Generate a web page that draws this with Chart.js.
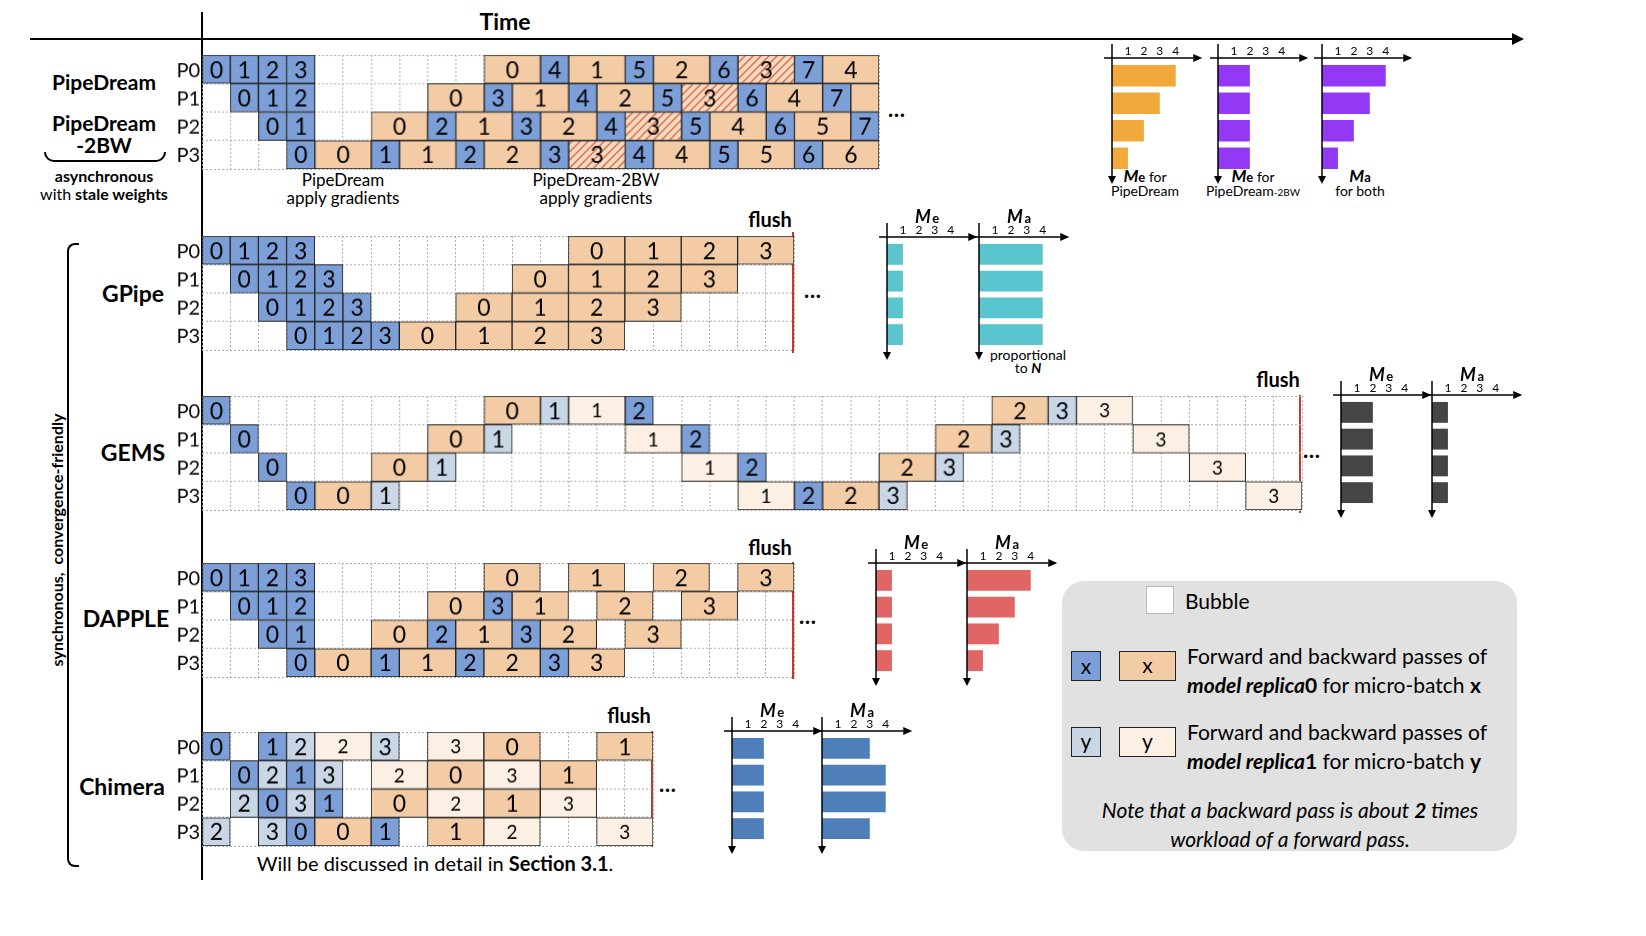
<!DOCTYPE html>
<html><head><meta charset="utf-8">
<script src="https://cdn.jsdelivr.net/npm/chart.js@4"></script>
<style>
body{margin:0;background:#fff;width:1646px;height:936px;position:relative;overflow:hidden;font-family:Lato,"Open Sans",sans-serif;color:#000}
canvas{position:absolute}
.t{position:absolute;white-space:nowrap;line-height:1}
.c{transform:translateX(-50%);text-align:center}
.b{font-weight:bold}
.ln{position:absolute;background:#000}
.red{position:absolute;background:#c0392b;width:2px}
.m{font-weight:bold;font-style:italic}
</style></head><body>
<!-- axes -->
<div class="ln" style="left:30px;top:38px;width:1490px;height:2px"></div>
<div style="position:absolute;left:1512px;top:33px;border-left:12px solid #000;border-top:6px solid transparent;border-bottom:6px solid transparent"></div>
<div class="ln" style="left:201px;top:12px;width:2px;height:868px"></div>
<div class="t c b" style="left:505px;top:10px;font-size:23px">Time</div>

<div class="t c b" style="left:104px;top:71px;font-size:21px">PipeDream</div>
<div class="t c b" style="left:104px;top:112px;font-size:21px;line-height:1.05">PipeDream<br>-2BW</div>
<div style="position:absolute;left:44px;top:152px;width:118px;height:8px;border:2px solid #000;border-top:none;border-radius:0 0 10px 10px"></div>
<div class="t c b" style="left:104px;top:167px;font-size:16px;line-height:1.1">asynchronous<br><span style="font-weight:normal">with</span> stale weights</div>
<div class="t c" style="left:343px;top:171px;font-size:17px;line-height:1.05">PipeDream<br>apply gradients</div>
<div class="t c" style="left:596px;top:171px;font-size:17px;line-height:1.05">PipeDream-2BW<br>apply gradients</div>
<div class="t b" style="left:888px;top:98px;font-size:22px">…</div>

<div style="position:absolute;left:67px;top:243px;width:10px;height:620px;border:2px solid #000;border-right:none;border-radius:8px 0 0 8px"></div>
<div class="t b" style="left:57px;top:540px;font-size:16px;transform:translate(-50%,-50%) rotate(-90deg)">synchronous,&nbsp; convergence-friendly</div>

<div class="t c b" style="left:133px;top:282px;font-size:23px">GPipe</div>
<div class="t c b" style="left:133px;top:441px;font-size:23px">GEMS</div>
<div class="t c b" style="left:126px;top:607px;font-size:23px">DAPPLE</div>
<div class="t c b" style="left:122px;top:775px;font-size:23px">Chimera</div>

<div class="t c b" style="left:770px;top:209px;font-size:20px">flush</div>
<div class="red" style="left:792px;top:232px;height:121px"></div>
<div class="t c b" style="left:1278px;top:369px;font-size:20px">flush</div>
<div class="red" style="left:1299px;top:395px;height:118px"></div>
<div class="t c b" style="left:770px;top:537px;font-size:20px">flush</div>
<div class="red" style="left:792px;top:562px;height:117px"></div>
<div class="t c b" style="left:629px;top:705px;font-size:20px">flush</div>
<div class="red" style="left:651px;top:731px;height:116px"></div>
<div class="t b" style="left:804px;top:279px;font-size:22px">…</div>
<div class="t b" style="left:1303px;top:439px;font-size:22px">…</div>
<div class="t b" style="left:799px;top:605px;font-size:22px">…</div>
<div class="t b" style="left:659px;top:773px;font-size:22px">…</div>

<div class="t c" style="left:435px;top:853px;font-size:20px">Will be discussed in detail in <b>Section 3.1</b>.</div>

<!-- memory labels -->
<div class="t c" style="left:1145px;top:167px;font-size:14px;line-height:1"><span class="m" style="font-size:17px">M</span><b style="font-size:13px">e</b> for<br>PipeDream</div>
<div class="t c" style="left:1253px;top:167px;font-size:14px;line-height:1"><span class="m" style="font-size:17px">M</span><b style="font-size:13px">e</b> for<br>PipeDream<span style="font-size:10px">-2BW</span></div>
<div class="t c" style="left:1360px;top:167px;font-size:14px;line-height:1"><span class="m" style="font-size:17px">M</span><b style="font-size:13px">a</b><br>for both</div>
<div class="t c" style="left:1028px;top:348px;font-size:14px;line-height:0.95">proportional<br>to <i><b>N</b></i></div>

<!-- legend -->
<div style="position:absolute;left:1062px;top:581px;width:455px;height:270px;background:#e1e1e1;border-radius:22px"></div>
<div style="position:absolute;left:1146px;top:586px;width:26px;height:26px;background:#fff;border:1px solid #bbb"></div>
<div class="t" style="left:1185px;top:590px;font-size:21px">Bubble</div>
<div style="position:absolute;left:1071px;top:651px;width:28px;height:28px;background:#7d9fd8;border:1px solid #222;font-size:21px;text-align:center;line-height:28px">x</div>
<div style="position:absolute;left:1119px;top:651px;width:55px;height:28px;background:#f3cca6;border:1px solid #222;font-size:21px;text-align:center;line-height:26px">x</div>
<div class="t" style="left:1187px;top:641px;font-size:21px;line-height:1.4">Forward and backward passes of<br><b><i>model replica</i>0</b> for micro-batch <b>x</b></div>
<div style="position:absolute;left:1071px;top:727px;width:28px;height:28px;background:#c9d6e6;border:1px solid #222;font-size:21px;text-align:center;line-height:26px">y</div>
<div style="position:absolute;left:1119px;top:727px;width:55px;height:28px;background:#fcefe3;border:1px solid #222;font-size:21px;text-align:center;line-height:26px">y</div>
<div class="t" style="left:1187px;top:717px;font-size:21px;line-height:1.4">Forward and backward passes of<br><b><i>model replica</i>1</b> for micro-batch <b>y</b></div>
<div class="t c" style="left:1290px;top:795px;font-size:21px;line-height:1.4;font-style:italic">Note that a backward pass is about <b>2</b> times<br>workload of a forward pass.</div>

<script>
// cells: [row, start, end, type, label]; f0/b0 replica0, f1/b1 replica1, h stale backward
const pipeDreamCells = [
  [0,0,1,'f0','0'],[0,1,2,'f0','1'],[0,2,3,'f0','2'],[0,3,4,'f0','3'],
  [0,10,12,'b0','0'],[0,12,13,'f0','4'],[0,13,15,'b0','1'],[0,15,16,'f0','5'],[0,16,18,'b0','2'],[0,18,19,'f0','6'],[0,19,21,'h','3'],[0,21,22,'f0','7'],[0,22,24,'b0','4'],
  [1,1,2,'f0','0'],[1,2,3,'f0','1'],[1,3,4,'f0','2'],
  [1,8,10,'b0','0'],[1,10,11,'f0','3'],[1,11,13,'b0','1'],[1,13,14,'f0','4'],[1,14,16,'b0','2'],[1,16,17,'f0','5'],[1,17,19,'h','3'],[1,19,20,'f0','6'],[1,20,22,'b0','4'],[1,22,23,'f0','7'],[1,23,24,'b0',''],
  [2,2,3,'f0','0'],[2,3,4,'f0','1'],
  [2,6,8,'b0','0'],[2,8,9,'f0','2'],[2,9,11,'b0','1'],[2,11,12,'f0','3'],[2,12,14,'b0','2'],[2,14,15,'f0','4'],[2,15,17,'h','3'],[2,17,18,'f0','5'],[2,18,20,'b0','4'],[2,20,21,'f0','6'],[2,21,23,'b0','5'],[2,23,24,'f0','7'],
  [3,3,4,'f0','0'],[3,4,6,'b0','0'],[3,6,7,'f0','1'],[3,7,9,'b0','1'],[3,9,10,'f0','2'],[3,10,12,'b0','2'],[3,12,13,'f0','3'],[3,13,15,'h','3'],[3,15,16,'f0','4'],[3,16,18,'b0','4'],[3,18,19,'f0','5'],[3,19,21,'b0','5'],[3,21,22,'f0','6'],[3,22,24,'b0','6']
];
const gpipeCells = [
  [0,0,1,'f0','0'],[0,1,2,'f0','1'],[0,2,3,'f0','2'],[0,3,4,'f0','3'],[0,13,15,'b0','0'],[0,15,17,'b0','1'],[0,17,19,'b0','2'],[0,19,21,'b0','3'],
  [1,1,2,'f0','0'],[1,2,3,'f0','1'],[1,3,4,'f0','2'],[1,4,5,'f0','3'],[1,11,13,'b0','0'],[1,13,15,'b0','1'],[1,15,17,'b0','2'],[1,17,19,'b0','3'],
  [2,2,3,'f0','0'],[2,3,4,'f0','1'],[2,4,5,'f0','2'],[2,5,6,'f0','3'],[2,9,11,'b0','0'],[2,11,13,'b0','1'],[2,13,15,'b0','2'],[2,15,17,'b0','3'],
  [3,3,4,'f0','0'],[3,4,5,'f0','1'],[3,5,6,'f0','2'],[3,6,7,'f0','3'],[3,7,9,'b0','0'],[3,9,11,'b0','1'],[3,11,13,'b0','2'],[3,13,15,'b0','3']
];
const gemsCells = [
  [0,0,1,'f0','0'],[0,10,12,'b0','0'],[0,12,13,'f1','1'],[0,13,15,'b1','1'],[0,15,16,'f0','2'],[0,28,30,'b0','2'],[0,30,31,'f1','3'],[0,31,33,'b1','3'],
  [1,1,2,'f0','0'],[1,8,10,'b0','0'],[1,10,11,'f1','1'],[1,15,17,'b1','1'],[1,17,18,'f0','2'],[1,26,28,'b0','2'],[1,28,29,'f1','3'],[1,33,35,'b1','3'],
  [2,2,3,'f0','0'],[2,6,8,'b0','0'],[2,8,9,'f1','1'],[2,17,19,'b1','1'],[2,19,20,'f0','2'],[2,24,26,'b0','2'],[2,26,27,'f1','3'],[2,35,37,'b1','3'],
  [3,3,4,'f0','0'],[3,4,6,'b0','0'],[3,6,7,'f1','1'],[3,19,21,'b1','1'],[3,21,22,'f0','2'],[3,22,24,'b0','2'],[3,24,25,'f1','3'],[3,37,39,'b1','3']
];
const dappleCells = [
  [0,0,1,'f0','0'],[0,1,2,'f0','1'],[0,2,3,'f0','2'],[0,3,4,'f0','3'],[0,10,12,'b0','0'],[0,13,15,'b0','1'],[0,16,18,'b0','2'],[0,19,21,'b0','3'],
  [1,1,2,'f0','0'],[1,2,3,'f0','1'],[1,3,4,'f0','2'],[1,8,10,'b0','0'],[1,10,11,'f0','3'],[1,11,13,'b0','1'],[1,14,16,'b0','2'],[1,17,19,'b0','3'],
  [2,2,3,'f0','0'],[2,3,4,'f0','1'],[2,6,8,'b0','0'],[2,8,9,'f0','2'],[2,9,11,'b0','1'],[2,11,12,'f0','3'],[2,12,14,'b0','2'],[2,15,17,'b0','3'],
  [3,3,4,'f0','0'],[3,4,6,'b0','0'],[3,6,7,'f0','1'],[3,7,9,'b0','1'],[3,9,10,'f0','2'],[3,10,12,'b0','2'],[3,12,13,'f0','3'],[3,13,15,'b0','3']
];
const chimeraCells = [
  [0,0,1,'f0','0'],[0,2,3,'f0','1'],[0,3,4,'f1','2'],[0,4,6,'b1','2'],[0,6,7,'f1','3'],[0,8,10,'b1','3'],[0,10,12,'b0','0'],[0,14,16,'b0','1'],
  [1,1,2,'f0','0'],[1,2,3,'f1','2'],[1,3,4,'f0','1'],[1,4,5,'f1','3'],[1,6,8,'b1','2'],[1,8,10,'b0','0'],[1,10,12,'b1','3'],[1,12,14,'b0','1'],
  [2,1,2,'f1','2'],[2,2,3,'f0','0'],[2,3,4,'f1','3'],[2,4,5,'f0','1'],[2,6,8,'b0','0'],[2,8,10,'b1','2'],[2,10,12,'b0','1'],[2,12,14,'b1','3'],
  [3,0,1,'f1','2'],[3,2,3,'f1','3'],[3,3,4,'f0','0'],[3,4,6,'b0','0'],[3,6,7,'f0','1'],[3,8,10,'b0','1'],[3,10,12,'b1','2'],[3,14,16,'b1','3']
];
const rowLabels = ['P0','P1','P2','P3'];
const memTicks = [1,2,3,4];
const pdMe = [4,3,2,1], pd2bwMe = [2,2,2,2], pdMa = [4,3,2,1];
const gpipeMe = [1,1,1,1], gpipeMa = [4,4,4,4];
const gemsMe = [2,2,2,2], gemsMa = [1,1,1,1];
const dappleMe = [1,1,1,1], dappleMa = [4,3,2,1];
const chimeraMe = [2,2,2,2], chimeraMa = [3,4,4,3];

const U = 28.2, FONT = 'Lato, "Open Sans", sans-serif';
const types = ['f0','b0','f1','b1','h'];

function hatch(){
  const c = document.createElement('canvas'); c.width = 8; c.height = 8;
  const g = c.getContext('2d');
  g.fillStyle = '#f7dcc4'; g.fillRect(0,0,8,8);
  g.strokeStyle = '#d8603c'; g.lineWidth = 1.3;
  g.beginPath(); g.moveTo(0,8); g.lineTo(8,0); g.moveTo(-2,2); g.lineTo(2,-2); g.moveTo(6,10); g.lineTo(10,6); g.stroke();
  return document.createElement('canvas').getContext('2d').createPattern(c,'repeat');
}
const colors = {f0:'#7d9fd8', b0:'#f3cca6', f1:'#c9d6e6', b1:'#fcefe3', h:hatch()};

function makeCanvas(l,t,w,h){
  const cv = document.createElement('canvas');
  cv.width = w; cv.height = h;
  cv.style.left = l+'px'; cv.style.top = t+'px';
  cv.style.width = w+'px'; cv.style.height = h+'px';
  document.body.appendChild(cv);
  return cv;
}

const cellText = {
  id:'cellText',
  afterDatasetsDraw(chart){
    const g = chart.ctx, y = chart.scales.y;
    g.save(); g.fillStyle = '#000'; g.textAlign = 'center'; g.textBaseline = 'middle';
    chart.data.datasets.forEach((ds,i) => {
      chart.getDatasetMeta(i).data.forEach((el,j) => {
        const p = el.getProps(['x','base','y'], true);
        g.font = (ds.kind === 'b1' ? 19 : 23) + 'px ' + FONT;
        g.fillText(ds.data[j].t, (p.x+p.base)/2, p.y+1);
      });
    });
    // row labels
    g.font = '20px ' + FONT; g.textAlign = 'right';
    rowLabels.forEach((r,i) => g.fillText(r, chart.chartArea.left - 2, y.getPixelForValue(i) + 1));
    g.restore();
  }
};

function sched(cells, top, units){
  const w = 32 + units*U + 2;
  const cv = makeCanvas(170, top-1, w, 4*U + 3);
  new Chart(cv, {
    type:'bar',
    data:{
      labels: rowLabels,
      datasets: types.map(t => ({
        kind:t,
        data: cells.filter(c => c[3]===t).map(c => ({y:rowLabels[c[0]], x:[c[1],c[2]], t:c[4]})),
        backgroundColor: colors[t], borderColor:'#222', borderWidth:1, borderSkipped:false,
        grouped:false, barPercentage:1, categoryPercentage:1
      }))
    },
    options:{
      indexAxis:'y', responsive:false, animation:false, devicePixelRatio:1,
      layout:{padding:{top:1,right:2,bottom:1,left:0}},
      plugins:{legend:{display:false}, tooltip:{enabled:false}},
      scales:{
        x:{min:0, max:units, ticks:{display:false, stepSize:1}, grid:{color:'#aaa', drawTicks:false}, border:{display:false, dash:[2,2]},
           afterFit(s){ s.height = 0; }},
        y:{ticks:{display:false}, grid:{offset:true, color:'#aaa', drawTicks:false}, border:{display:false, dash:[2,2]},
           afterFit(s){ s.width = 32; }}
      }
    },
    plugins:[cellText]
  });
}

const memAxes = {
  id:'memAxes',
  afterDatasetsDraw(chart, args, o){
    const g = chart.ctx, x = chart.scales.x, a = chart.chartArea;
    const ox = x.getPixelForValue(0), ay = a.top - 4;
    g.save(); g.strokeStyle = '#000'; g.fillStyle = '#000'; g.lineWidth = 1.5;
    g.beginPath(); g.moveTo(ox, ay-14); g.lineTo(ox, a.bottom+6); g.moveTo(ox-8, ay); g.lineTo(x.getPixelForValue(5.1), ay); g.stroke();
    g.beginPath(); g.moveTo(ox-4, a.bottom+4); g.lineTo(ox+4, a.bottom+4); g.lineTo(ox, a.bottom+12); g.fill();
    const ex = x.getPixelForValue(5.1);
    g.beginPath(); g.moveTo(ex, ay-4); g.lineTo(ex, ay+4); g.lineTo(ex+9, ay); g.fill();
    g.font = '12px ' + FONT; g.textAlign = 'center'; g.textBaseline = 'bottom';
    memTicks.forEach(v => g.fillText(v, x.getPixelForValue(v), ay-1));
    if (o.title){
      g.textAlign = 'center'; g.textBaseline = 'alphabetic';
      const cx = x.getPixelForValue(2.5);
      g.font = 'italic bold 18px ' + FONT; g.fillText('M', cx-4, ay-14);
      g.font = 'bold 13px ' + FONT; g.fillText(o.title, cx+9, ay-14);
    }
    g.restore();
  }
};

function mem(ox, ay, by, vals, color, title){
  const top = ay - 40, h = by - top + 14;
  const cv = makeCanvas(ox-12, top, 12 + 16*5.9, h);
  new Chart(cv, {
    type:'bar',
    data:{labels:rowLabels, datasets:[{data:vals, backgroundColor:color, barPercentage:0.78, categoryPercentage:1}]},
    options:{
      indexAxis:'y', responsive:false, animation:false, devicePixelRatio:1,
      layout:{padding:{left:12, top:44, right:0, bottom:h-(by-top)+4}},
      plugins:{legend:{display:false}, tooltip:{enabled:false}, memAxes:{title:title}},
      scales:{x:{display:false, min:0, max:5.9}, y:{display:false}}
    },
    plugins:[memAxes]
  });
}

sched(pipeDreamCells, 55, 24);
sched(gpipeCells, 236, 21);
sched(gemsCells, 396, 39);
sched(dappleCells, 563, 21);
sched(chimeraCells, 732, 16);

mem(1112, 58, 176, pdMe, '#f2a93b');
mem(1218, 58, 176, pd2bwMe, '#9338f4');
mem(1322, 58, 176, pdMa, '#9338f4');
mem(887, 237, 352, gpipeMe, '#5bc5cf', 'e');
mem(979, 237, 352, gpipeMa, '#5bc5cf', 'a');
mem(1341, 395, 510, gemsMe, '#454545', 'e');
mem(1432, 395, 510, gemsMa, '#454545', 'a');
mem(876, 563, 678, dappleMe, '#e06666', 'e');
mem(967, 563, 678, dappleMa, '#e06666', 'a');
mem(732, 731, 846, chimeraMe, '#4f7fb9', 'e');
mem(822, 731, 846, chimeraMa, '#4f7fb9', 'a');
</script>
</body></html>
